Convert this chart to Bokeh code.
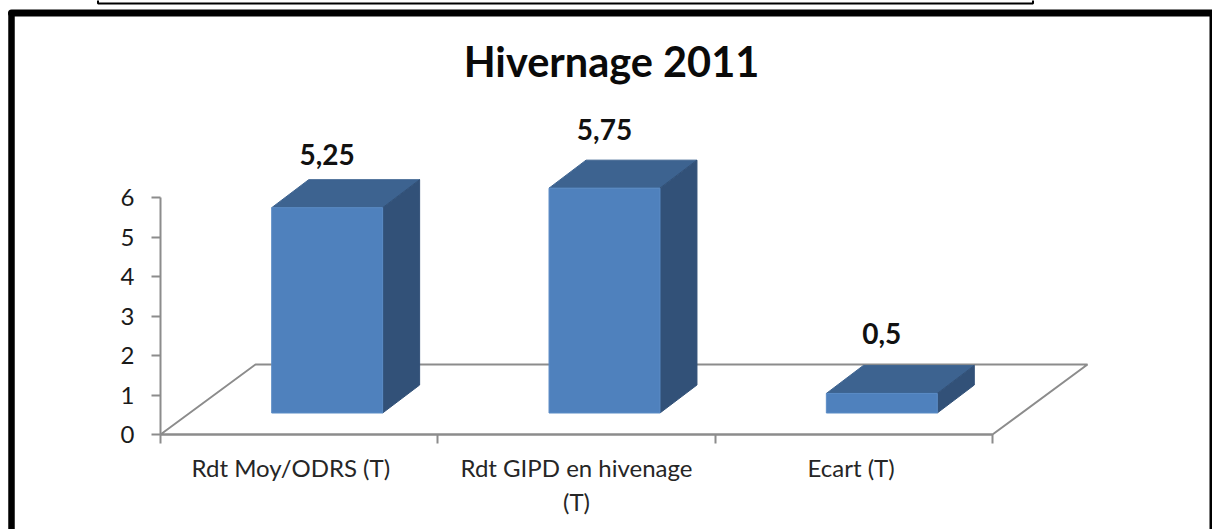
from bokeh.plotting import figure
from bokeh.models import Range1d, LinearAxis, FixedTicker
from bokeh.core.properties import value
from bokeh.embed import file_html
from bokeh.resources import INLINE

title_text = "Hivernage 2011"
categories = ["Rdt Moy/ODRS (T)", "Rdt GIPD en hivenage\n(T)", "Ecart (T)"]
values = [5.25, 5.75, 0.5]
value_labels = ["5,25", "5,75", "0,5"]
y_ticks = [0, 1, 2, 3, 4, 5, 6]

W, H = 1212, 529
X0, Y0 = 160.0, 434.0      # pixel of data origin
UX, UY = 277.33, 39.5      # pixels per category / per y unit
X = lambda px: (px - X0) / UX
Y = lambda py: (Y0 - py) / UY
DX = lambda d: d / UX
DY = lambda d: d / UY

FONT = "Lato"
GRAY = "#8c8c8c"

p = figure(width=W, height=H, output_backend="svg", toolbar_location=None,
           x_range=Range1d(X(0), X(W)), y_range=Range1d(Y(H), Y(0)),
           min_border=0, min_border_left=0, min_border_right=0,
           min_border_top=0, min_border_bottom=0,
           x_axis_location=None, y_axis_location=None,
           outline_line_color=None, background_fill_color="white")
p.xgrid.visible = False
p.ygrid.visible = False
p.styles = {"position": "absolute", "left": "0", "top": "0"}

# floor of the 3D plot
floor_dx, floor_dy = DX(95), DY(70)
n = len(categories)
p.line([0, floor_dx, n + floor_dx, n, 0], [0, floor_dy, floor_dy, 0, 0],
       line_color=GRAY, line_width=2)

# axes
yax = LinearAxis(fixed_location=0, ticker=FixedTicker(ticks=y_ticks), bounds=(0, 6),
                 axis_line_color=GRAY, axis_line_width=2,
                 major_tick_line_color=GRAY, major_tick_line_width=2,
                 major_tick_in=0, major_tick_out=9, minor_tick_line_color=None,
                 major_label_text_font=FONT, major_label_text_font_size="24px",
                 major_label_text_color="#1a1a1a", major_label_standoff=17)
p.add_layout(yax, "left")

xax = LinearAxis(fixed_location=0, ticker=FixedTicker(ticks=list(range(n + 1))), bounds=(0, n),
                 axis_line_color=GRAY, axis_line_width=2,
                 major_tick_line_color=GRAY, major_tick_line_width=2,
                 major_tick_in=0, major_tick_out=9, minor_tick_line_color=None,
                 major_label_text_color=None)
p.add_layout(xax, "below")

label_ticks = [0.47, 1.5, 2.49]
xlab = LinearAxis(fixed_location=0, ticker=FixedTicker(ticks=label_ticks),
                  axis_line_color=None, major_tick_line_color=None,
                  minor_tick_line_color=None,
                  major_label_overrides={t: c for t, c in zip(label_ticks, categories)},
                  major_label_text_font=FONT, major_label_text_font_size="24px",
                  major_label_text_color="#262626", major_label_standoff=12)
p.add_layout(xlab, "below")

# 3D bars
bar_w = 0.4
base = DY(21.5)
shift = DX(28)
dep_x, dep_y = DX(37), DY(28)
scale = 0.99
for i, v in enumerate(values):
    x0 = i + 0.5 + shift - bar_w / 2
    x1 = x0 + bar_w
    y0 = base
    y1 = base + v * scale
    p.patch([x0, x0 + dep_x, x1 + dep_x, x1],
            [y1, y1 + dep_y, y1 + dep_y, y1], fill_color="#3D6390", line_color="#3D6390", line_width=1)
    p.patch([x1, x1 + dep_x, x1 + dep_x, x1], [y0, y0 + dep_y, y1 + dep_y, y1],
            fill_color="#325178", line_color="#325178", line_width=1)
    p.quad(left=x0, right=x1, bottom=y0, top=y1, fill_color="#4F81BD", line_color="#5B8CC6", line_width=1)

# value labels
nudges = [DY(53), DY(59), DY(60)]
lx = [i + 0.5 + shift for i in range(n)]
ly = [base + v * scale + d for v, d in zip(values, nudges)]
p.text(lx, ly, text=value_labels, text_font=value(FONT), text_font_style="bold",
       text_font_size="28px", text_align="center", text_baseline="middle", text_color="#111111")

# title
p.text([X(611)], [Y(60.5)], text=[title_text], text_font=value(FONT), text_font_style="bold",
       text_font_size="41.5px", text_align="center", text_baseline="middle", text_color="#0a0a0a")

# frame of the picture
p.line([X(11), X(11)], [Y(14), Y(H + 5)], line_color="black", line_width=6.5, line_cap="round")
p.line([X(11), X(W + 5)], [Y(12.5), Y(12.5)], line_color="black", line_width=7, line_cap="round")
p.line([X(1210.5), X(1210.5)], [Y(12), Y(H + 5)], line_color="black", line_width=3)

# box cut off at the top of the picture
p.line([X(97.5), X(97.5), X(1032.5), X(1032.5)], [Y(-3), Y(3), Y(3), Y(-3)],
       line_color="black", line_width=2)

open("out.html", "w").write(file_html(p, INLINE))
